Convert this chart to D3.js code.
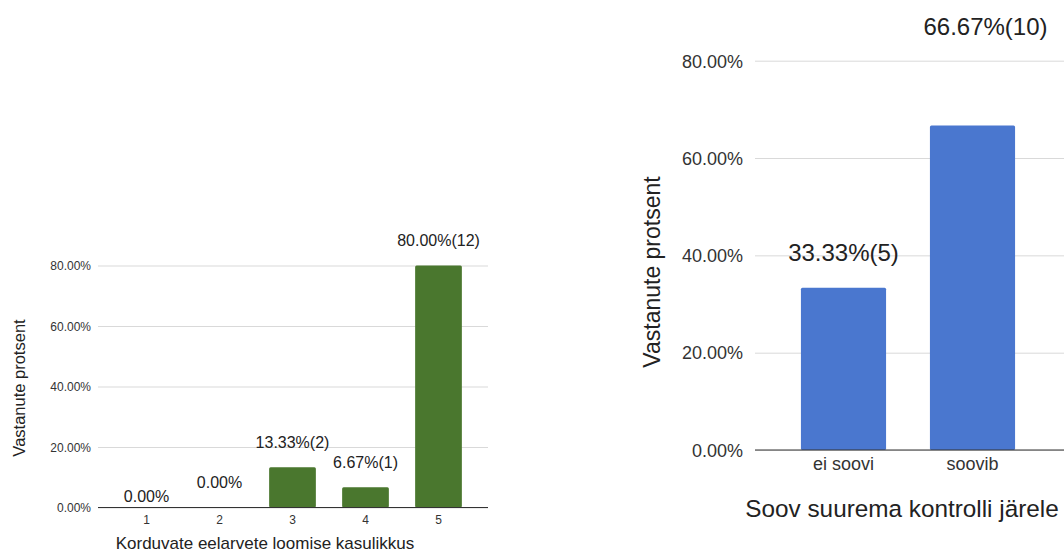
<!DOCTYPE html>
<html>
<head>
<meta charset="utf-8">
<script src="https://cdn.jsdelivr.net/npm/d3@7"></script>
<style>
  html, body { margin: 0; padding: 0; background: #fff; }
  svg { display: block; font-family: "Liberation Sans", Arial, sans-serif; }
</style>
</head>
<body>
<svg id="chart" width="1064" height="553"></svg>
<script>
// Usefulness of recurring budgets (rating 1–5)
const usefulnessCategories = ["1", "2", "3", "4", "5"];
const usefulnessPercent = [0, 0, 13.33, 6.67, 80.0];
const usefulnessLabels = ["0.00%", "0.00%", "13.33%(2)", "6.67%(1)", "80.00%(12)"];

// Wish for more control
const controlCategories = ["ei soovi", "soovib"];
const controlPercent = [33.33, 66.67];
const controlLabels = ["33.33%(5)", "66.67%(10)"];

const yTicks = [0, 20, 40, 60, 80];
const yAxisTitle = "Vastanute protsent";
const usefulnessTitle = "Korduvate eelarvete loomise kasulikkus";
const controlTitle = "Soov suurema kontrolli järele";

const svg = d3.select("#chart");
const fmt = d => d3.format(".2f")(d) + "%";

function drawPanel(cfg) {
  const g = svg.append("g");
  const x = d3.scaleBand()
    .domain(cfg.categories)
    .range(cfg.xRange)
    .paddingInner(cfg.padInner)
    .paddingOuter(cfg.padOuter);
  const y = d3.scaleLinear().domain([0, 80]).range(cfg.yRange);

  // horizontal gridlines
  const yAxis = d3.axisLeft(y).tickValues(yTicks).tickFormat(fmt)
    .tickSize(-(cfg.gridRight - cfg.gridLeft)).tickPadding(cfg.tickPad);
  const ya = g.append("g").attr("transform", `translate(${cfg.gridLeft},0)`).call(yAxis);
  ya.select(".domain").remove();
  ya.selectAll(".tick line").attr("stroke", "#d9d9d9").attr("stroke-width", 1);
  ya.selectAll(".tick text")
    .attr("fill", "#333").attr("font-size", cfg.tickSize).attr("font-family", null)
    .attr("dy", "0.35em");

  // bars
  g.selectAll("rect.bar")
    .data(cfg.values)
    .join("rect")
    .attr("class", "bar")
    .attr("x", (d, i) => x(cfg.categories[i]))
    .attr("width", x.bandwidth())
    .attr("y", d => y(d))
    .attr("height", d => y(0) - y(d))
    .attr("rx", 1.5)
    .attr("fill", cfg.color);

  // baseline and category ticks
  const xAxis = d3.axisBottom(x).tickSize(0).tickPadding(cfg.xTickPad);
  const xa = g.append("g").attr("transform", `translate(0,${y(0)})`).call(xAxis);
  xa.select(".domain").remove();
  xa.selectAll(".tick text")
    .attr("fill", "#333").attr("font-size", cfg.tickSize).attr("font-family", null);
  g.append("line")
    .attr("x1", cfg.gridLeft).attr("x2", cfg.gridRight)
    .attr("y1", y(0)).attr("y2", y(0))
    .attr("stroke", "#333").attr("stroke-width", 1.2);

  // value labels
  g.selectAll("text.val")
    .data(cfg.values)
    .join("text")
    .attr("class", "val")
    .attr("x", (d, i) => x(cfg.categories[i]) + x.bandwidth() / 2 + cfg.labelShift(d, i))
    .attr("y", (d, i) => cfg.labelY(y(d), d, i))
    .attr("dy", "0.35em")
    .attr("text-anchor", "middle")
    .attr("font-size", cfg.labelSize)
    .attr("fill", "#222")
    .text((d, i) => cfg.labels[i]);

  // axis titles
  g.append("text")
    .attr("x", cfg.xTitlePos[0]).attr("y", cfg.xTitlePos[1])
    .attr("dy", "0.35em").attr("text-anchor", "middle")
    .attr("font-size", cfg.titleSize).attr("fill", "#222")
    .text(cfg.xTitle);
  g.append("text")
    .attr("transform", `translate(${cfg.yTitlePos[0]},${cfg.yTitlePos[1]}) rotate(-90)`)
    .attr("dy", "0.35em").attr("text-anchor", "middle")
    .attr("font-size", cfg.yTitleSize).attr("fill", "#222")
    .text(yAxisTitle);
}

drawPanel({
  categories: usefulnessCategories,
  values: usefulnessPercent,
  labels: usefulnessLabels,
  color: "#4a772e",
  xRange: [110, 475],
  padInner: 0.36,
  padOuter: 0.18,
  yRange: [507.5, 265.5],
  gridLeft: 98,
  gridRight: 488,
  tickPad: 7,
  tickSize: 12,
  xTickPad: 8,
  labelSize: 16,
  labelShift: () => 0,
  labelY: (top, d, i) => top - (i === 0 ? 11 : 25),
  titleSize: 17,
  xTitle: usefulnessTitle,
  xTitlePos: [265, 543],
  yTitleSize: 16.5,
  yTitlePos: [19, 388]
});

drawPanel({
  categories: controlCategories,
  values: controlPercent,
  labels: controlLabels,
  color: "#4a77cf",
  xRange: [779, 1037],
  padInner: 0.34,
  padOuter: 0.17,
  yRange: [450, 60.7],
  gridLeft: 755,
  gridRight: 1064,
  tickPad: 12,
  tickSize: 18,
  xTickPad: 7,
  labelSize: 24,
  labelShift: (d, i) => (i === 1 ? 13 : 0),
  // the taller bar's label sits in the top margin of the panel
  labelY: (top, d, i) => (i === 1 ? 27 : top - 35),
  titleSize: 24.3,
  xTitle: controlTitle,
  xTitlePos: [902, 508],
  yTitleSize: 23,
  yTitlePos: [652, 272]
});
</script>
</body>
</html>
